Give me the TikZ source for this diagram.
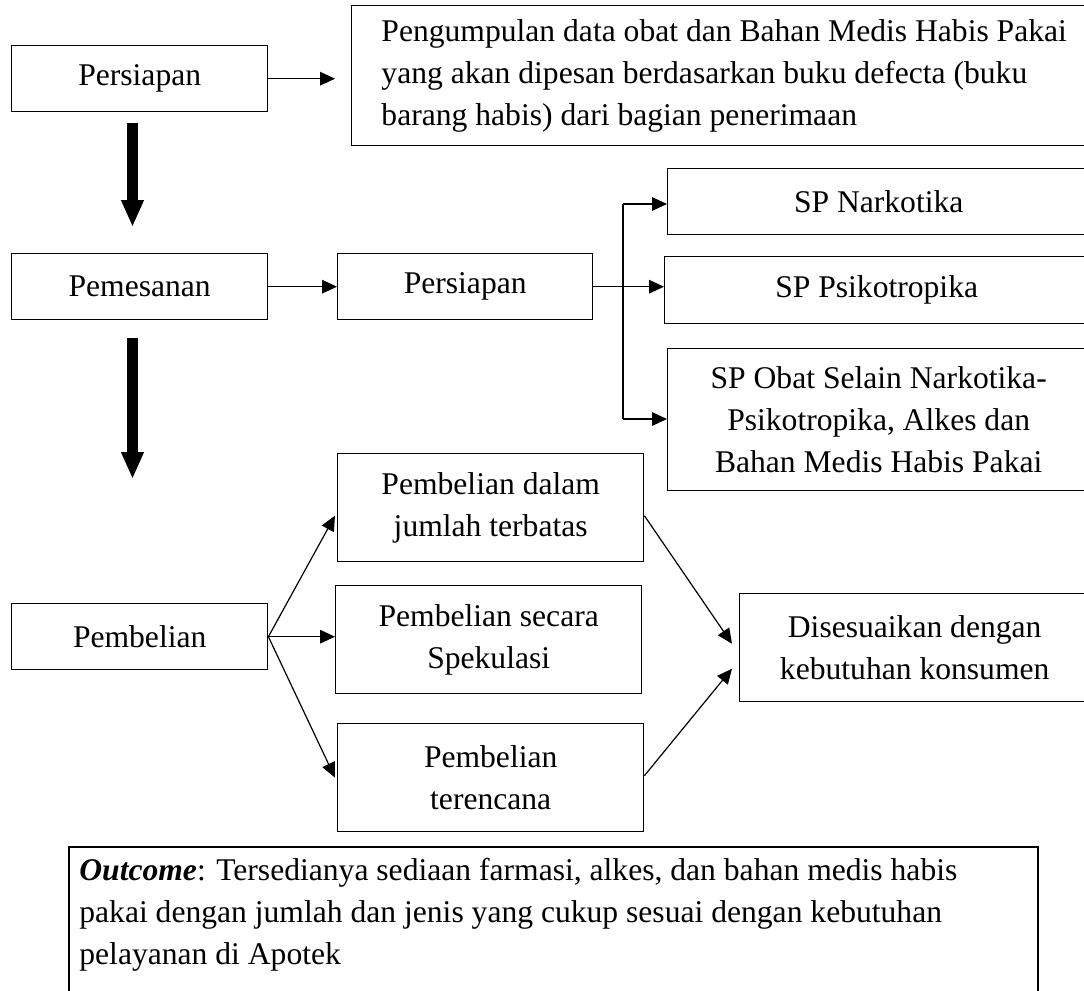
\documentclass[tikz,border=0pt]{standalone}
\usepackage{fontspec}
\setmainfont{Liberation Serif}
\usetikzlibrary{arrows.meta,calc}
\begin{document}
\begin{tikzpicture}[x=0.5pt,y=-0.5pt,
  txt/.style={font=\fontsize{15.8pt}{21pt}\selectfont},
  box/.style={txt,draw,line width=0.7pt,anchor=north west,inner sep=0pt,align=center},
  arr/.style={line width=0.6pt,-{Triangle[length=7.5pt,width=6.8pt]}},
  thin/.style={line width=0.6pt},
  bigarrow/.style={line width=5.5pt,-{Triangle[length=13.5pt,width=10.5pt]}}]
\useasboundingbox (0,0) rectangle (1084,991);
% boxes (right edges run past the page, as in the reference)
\node[box,minimum width=128pt,minimum height=33pt] (p1) at (11,45) {Persiapan};
\node[box,align=left,minimum width=372.5pt,minimum height=70pt] (peng) at (351,5)
  {Pengumpulan data obat dan Bahan Medis Habis Pakai\\yang akan dipesan berdasarkan buku defecta (buku\\barang habis) dari bagian penerimaan};
\node[box,minimum width=128pt,minimum height=33pt] (pem) at (11,253) {Pemesanan};
\node[box,minimum width=127.5pt,minimum height=33pt] (p2) at (337,253) {Persiapan};
\node[box,minimum width=211pt,minimum height=33pt] (nark) at (667,168) {SP Narkotika};
\node[box,minimum width=212pt,minimum height=33.5pt] (psik) at (664,256) {SP Psikotropika};
\node[box,minimum width=211pt,minimum height=71pt] (obat) at (667,348)
  {SP Obat Selain Narkotika-\\Psikotropika, Alkes dan\\Bahan Medis Habis Pakai};
\node[box,minimum width=128pt,minimum height=33pt] (pemb) at (11,603) {Pembelian};
\node[box,minimum width=153pt,minimum height=54pt] (pd) at (337,453) {Pembelian dalam\\jumlah terbatas};
\node[box,minimum width=153pt,minimum height=54pt] (ps) at (335,585) {Pembelian secara\\Spekulasi};
\node[box,minimum width=153pt,minimum height=54pt] (pt) at (337,723) {Pembelian\\terencana};
\node[box,minimum width=175pt,minimum height=54pt] (dis) at (739,593) {Disesuaikan dengan\\kebutuhan konsumen};
% outcome box
\draw[line width=0.7pt] (69,1010) -- (69,847) -- (1038,847) -- (1038,1010);
\node[txt,anchor=north west,align=left,inner sep=0pt] (outtxt) at (79,858)
  {\textbf{\textit{Outcome}}: Tersedianya sediaan farmasi, alkes, dan bahan medis habis\\pakai dengan jumlah dan jenis yang cukup sesuai dengan kebutuhan\\pelayanan di Apotek};
% thick arrows
\draw[bigarrow] (132.5,123) -- (132.5,227);
\draw[bigarrow] (132.5,338) -- (132.5,479);
% connectors
\draw[arr] (p1.east) -- ([xshift=-8pt]p1.east -| peng.west);
\draw[arr] (pem.east) -- (pem.east -| p2.west);
\coordinate (bt) at (623,204);
\coordinate (bb) at (623,419);
\draw[thin] (bt) -- (bb);
\draw[arr] (bt) -- (bt -| nark.west);
\draw[arr] (p2.east) -- (p2.east -| psik.west);
\draw[arr] (bb) -- (bb -| obat.west);
\draw[arr] (pemb.east) -- ($(pd.west)+(-2,8)$);
\draw[arr] (pemb.east) -- (pemb.east -| ps.west);
\draw[arr] (pemb.east) -- ($(pt.west)+(-2,0)$);
\draw[arr] ($(pd.east)+(0,8)$) -- ($(dis.west)+(-7,-4)$);
\draw[arr] ($(pt.east)+(0,-2)$) -- ($(dis.west)+(-7,21)$);
\end{tikzpicture}
\end{document}
